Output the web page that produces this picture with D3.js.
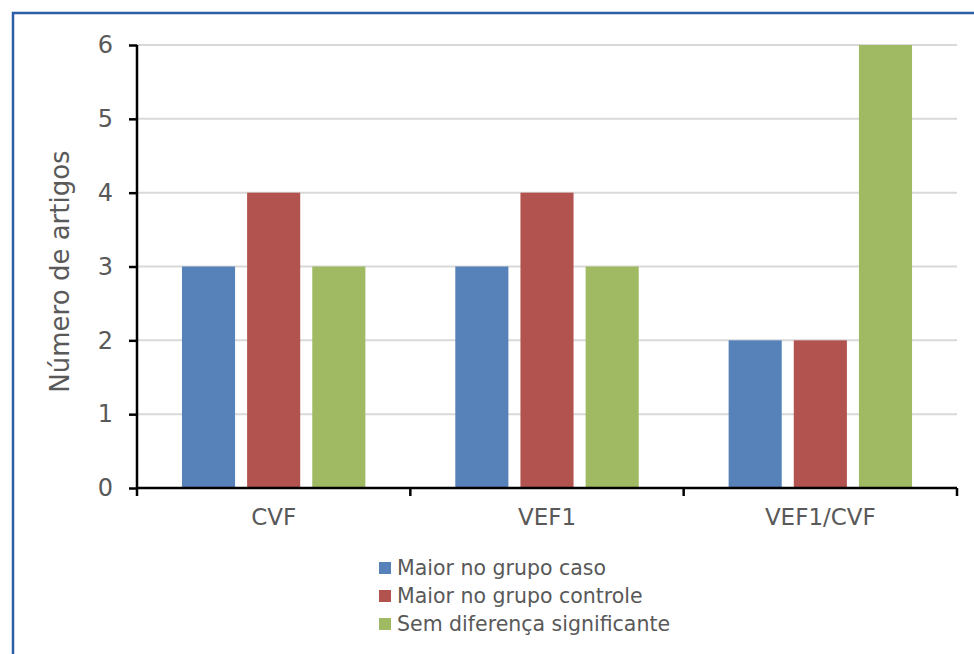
<!DOCTYPE html>
<html><head><meta charset="utf-8">
<script src="https://cdn.jsdelivr.net/npm/d3@7"></script>
<style>body{margin:0;background:#fff}</style>
</head><body>
<script>
const categories = ["CVF", "VEF1", "VEF1/CVF"];
const seriesNames = ["Maior no grupo caso", "Maior no grupo controle", "Sem diferença significante"];
const caso = [3, 3, 2];
const controle = [4, 4, 2];
const semDif = [3, 3, 6];
const yTicks = [0, 1, 2, 3, 4, 5, 6];
const colors = ["#5681b9", "#b3534f", "#a0ba63"];

const values = [caso, controle, semDif];
const W = 974, H = 654;
const font = "'DejaVu Sans', Verdana, sans-serif";
const svg = d3.select("body").append("svg").attr("width", W).attr("height", H);

// border
svg.append("path").attr("d", `M13,${H+5} L13,13 L${W+5},13`).attr("fill", "none")
  .attr("stroke", "#2e5ea8").attr("stroke-width", 2.5);

const x0 = 137, x1 = 957, yTop = 45, yBot = 488;
const x = d3.scaleBand().domain(categories).range([x0, x1]);
const xs = d3.scaleBand().domain(d3.range(3)).range([0, x.bandwidth()]).paddingInner(0.185).paddingOuter(0.69);
const y = d3.scaleLinear().domain([0, 6]).range([yBot, yTop]);

// grid
svg.append("g").selectAll("line").data(yTicks.filter(d => d > 0)).join("line")
  .attr("x1", x0).attr("x2", x1).attr("y1", d => y(d)).attr("y2", d => y(d))
  .attr("stroke", "#d9d9d9").attr("stroke-width", 2);

// bars
categories.forEach((c, ci) => {
  values.forEach((s, si) => {
    svg.append("rect").attr("x", x(c) + xs(si)).attr("width", xs.bandwidth())
      .attr("y", y(s[ci])).attr("height", y(0) - y(s[ci])).attr("fill", colors[si]);
  });
});

// y axis
const ya = svg.append("g").attr("transform", `translate(${x0},0)`)
  .call(d3.axisLeft(y).tickValues(yTicks).tickSize(8).tickPadding(16).tickFormat(d3.format("d")));
ya.select(".domain").attr("stroke", "#000").attr("stroke-width", 2.5).attr("d", `M0,${yTop}V${yBot}`);
ya.selectAll(".tick line").attr("stroke", "#000").attr("stroke-width", 2.5);
ya.selectAll("text").attr("font-family", font).attr("font-size", 24).attr("fill", "#595959");

// x axis
const xa = svg.append("g").attr("transform", `translate(0,${yBot})`)
  .call(d3.axisBottom(x).tickSize(0).tickPadding(21));
xa.select(".domain").attr("stroke", "#000").attr("stroke-width", 2.5).attr("d", `M${x0},0H${x1}`);
xa.selectAll("text").attr("font-family", font).attr("font-size", 23).attr("fill", "#595959");
const bounds = [x0, ...categories.map(c => x(c) + x.bandwidth())];
svg.append("g").selectAll("line").data(bounds).join("line")
  .attr("x1", d => d).attr("x2", d => d).attr("y1", yBot).attr("y2", yBot + 8)
  .attr("stroke", "#000").attr("stroke-width", 2.5);

// y title
svg.append("text").attr("transform", `translate(69,${(yTop + yBot) / 2 + 5}) rotate(-90)`)
  .attr("text-anchor", "middle").attr("font-family", font).attr("font-size", 26)
  .attr("fill", "#595959").text("Número de artigos");

// legend
const lg = svg.append("g").attr("transform", "translate(379,562)");
seriesNames.forEach((n, i) => {
  lg.append("rect").attr("x", 0).attr("y", i * 28).attr("width", 12).attr("height", 12).attr("fill", colors[i]);
  lg.append("text").attr("x", 18).attr("y", i * 28 + 13).attr("font-family", font).attr("font-size", 20.5)
    .attr("fill", "#595959").text(n);
});
</script>
</body></html>
